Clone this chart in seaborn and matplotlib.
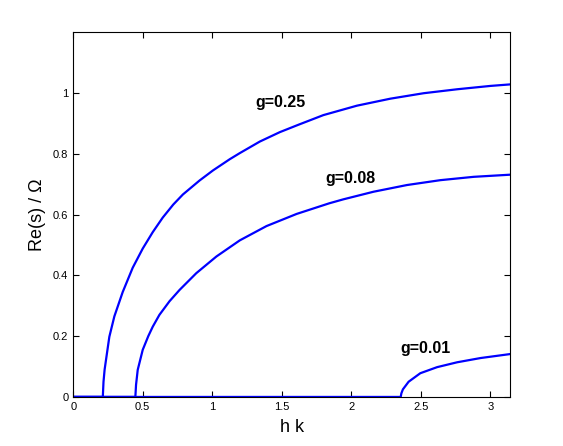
import numpy as np
import pandas as pd
import matplotlib
matplotlib.use("Agg")
import matplotlib.pyplot as plt
import seaborn as sns

# values
x_g025 = [0, 0.213, 0.218, 0.226, 0.236, 0.26, 0.296, 0.356, 0.428, 0.5, 0.572,
          0.644, 0.72, 0.789, 0.909, 1.005, 1.126, 1.198, 1.342, 1.486, 1.618,
          1.799, 2.04, 2.28, 2.52, 2.761, 3.0, 3.1416]
y_g025 = [0, 0, 0.05, 0.09, 0.122, 0.198, 0.265, 0.345, 0.425, 0.488, 0.542,
          0.59, 0.633, 0.666, 0.712, 0.745, 0.782, 0.802, 0.840, 0.871, 0.895,
          0.927, 0.958, 0.981, 0.999, 1.012, 1.023, 1.028]

x_g008 = [0, 0.447, 0.452, 0.464, 0.5, 0.54, 0.572, 0.62, 0.693, 0.765, 0.885,
          1.03, 1.198, 1.39, 1.607, 1.842, 1.943, 2.16, 2.40, 2.64, 2.88, 3.1416]
y_g008 = [0, 0, 0.04, 0.089, 0.155, 0.2, 0.231, 0.27, 0.315, 0.352, 0.407,
          0.462, 0.515, 0.562, 0.602, 0.637, 0.650, 0.675, 0.697, 0.713, 0.724, 0.731]

x_g001 = [0, 2.355, 2.36, 2.371, 2.412, 2.496, 2.617, 2.761, 2.93, 3.1416]
y_g001 = [0, 0, 0.012, 0.025, 0.05, 0.078, 0.098, 0.114, 0.128, 0.141]

labels = ["g=0.25", "g=0.08", "g=0.01"]
label_pos = [(1.31, 0.967), (1.815, 0.717), (2.35, 0.16)]

x_ticks = [0, 0.5, 1, 1.5, 2, 2.5, 3]
y_ticks = [0, 0.2, 0.4, 0.6, 0.8, 1]
y_tick_labels = ["0", "0.2", "0.4", "0.6", "0.8", "1"]

sns.set_style("ticks")
plt.rcParams['font.family'] = ['Liberation Sans', 'DejaVu Sans']
plt.rcParams['text.color'] = 'black'
plt.rcParams['axes.labelcolor'] = 'black'

fig = plt.figure(figsize=(5.63, 4.46), dpi=100)
ax = fig.add_axes([0.13, 0.11, 0.776, 0.818])

for xs, ys in [(x_g025, y_g025), (x_g008, y_g008), (x_g001, y_g001)]:
    df = pd.DataFrame({"hk": xs, "re": ys})
    sns.lineplot(data=df, x="hk", y="re", ax=ax, color="#0000ff",
                 linewidth=1.6, estimator=None, sort=False)

for txt, (tx, ty) in zip(labels, label_pos):
    ax.text(tx, ty, txt, fontsize=11.5, fontweight="bold",
            ha="left", va="center", color="black")

ax.set_xlim(0, np.pi)
ax.set_ylim(0, 1.2)
ax.set_xticks(x_ticks)
ax.set_xticklabels([str(t) for t in x_ticks])
ax.set_yticks(y_ticks)
ax.set_yticklabels(y_tick_labels)
ax.tick_params(direction="in", length=4, width=0.8, labelsize=8,
               top=True, right=True, colors="black")
for s in ax.spines.values():
    s.set_visible(True)
    s.set_linewidth(0.8)
    s.set_color("black")

ax.set_xlabel("h k", fontsize=13, labelpad=5)
ax.set_ylabel("Re(s) / Ω", fontsize=13, labelpad=5)

fig.savefig("out.png", dpi=100, facecolor="white")
